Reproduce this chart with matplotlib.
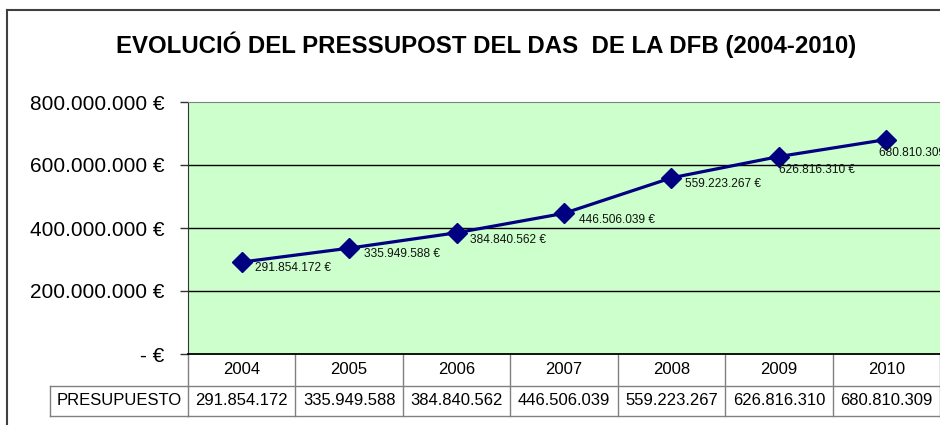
import matplotlib
matplotlib.use("Agg")
import matplotlib.pyplot as plt
from matplotlib.lines import Line2D
import matplotlib.transforms as mtransforms

years = ["2004", "2005", "2006", "2007", "2008", "2009", "2010"]
budget = [291854172, 335949588, 384840562, 446506039, 559223267, 626816310, 680810309]
yticks = [0, 200000000, 400000000, 600000000, 800000000]
row_label = "PRESUPUESTO"
title = "EVOLUCIÓ DEL PRESSUPOST DEL DAS  DE LA DFB (2004-2010)"

# label placement (offset points, layout only)
label_offsets = [(9.5, -4.5), (10.5, -4.5), (10, -5), (10.5, -5), (10, -4.5), (0, -10), (-5, -10)]

def fmt(v):
    return f"{v:,}".replace(",", ".")

def fmt_tick(v):
    return "- €" if v == 0 else fmt(v) + " €"

plt.rcParams['font.family'] = ['Liberation Sans', 'DejaVu Sans']

W, H = 940, 425
fig = plt.figure(figsize=(W / 100, H / 100), dpi=100)
fig.patch.set_facecolor("white")

left, right, top, bottom = 188, 940, 102, 354
ax = fig.add_axes([left / W, 1 - bottom / H, (right - left) / W, (bottom - top) / H])
ax.set_facecolor("#CCFFCC")

x = list(range(len(years)))
ax.plot(x, budget, color="#000080", lw=2.3, marker="D", ms=10, zorder=3, clip_on=False)
for xi, v, off in zip(x, budget, label_offsets):
    ax.annotate(fmt(v) + " €", (xi, v), xytext=off, textcoords="offset points",
                fontsize=8.6, ha="left", va="center", color="#111111", annotation_clip=False)

ax.set_xlim(-0.5, len(years) - 0.5)
ax.set_ylim(0, 800000000)
ax.set_yticks(yticks)
ax.set_yticklabels([fmt_tick(v) for v in yticks], fontsize=15)
ax.tick_params(axis="y", length=6, width=1, pad=11, color="#333333")
ax.set_xticks([])
for yv in yticks[1:-1]:
    ax.axhline(yv, color="black", lw=1, zorder=1)
ax.spines["top"].set_color("#808080")
ax.spines["right"].set_visible(False)
ax.spines["left"].set_color("#333333")
ax.spines["bottom"].set_color("black")
ax.spines["bottom"].set_linewidth(1.3)

# Data table below the axes
trans = mtransforms.blended_transform_factory(ax.transData, fig.transFigure)
def fy(py):
    return 1 - py / H
row1_top, row1_bot, row2_bot = 354, 385.5, 416
gray = "#808080"
n = len(years)
for i in range(n + 1):
    xe = i - 0.5
    ax.add_line(Line2D([xe, xe], [fy(row1_top), fy(row2_bot)], transform=trans,
                       color=gray, lw=1, clip_on=False))
ax.add_line(Line2D([-0.5, n - 0.5], [fy(row1_bot)] * 2, transform=trans, color=gray, lw=1, clip_on=False))
ax.add_line(Line2D([-0.5, n - 0.5], [fy(row2_bot)] * 2, transform=trans, color=gray, lw=1, clip_on=False))
# label cell
lab_left = 50
fig.add_artist(Line2D([lab_left / W, left / W], [fy(row1_bot)] * 2, color=gray, lw=1))
fig.add_artist(Line2D([lab_left / W, left / W], [fy(row2_bot)] * 2, color=gray, lw=1))
fig.add_artist(Line2D([lab_left / W] * 2, [fy(row1_bot), fy(row2_bot)], color=gray, lw=1))
fig.text((lab_left + left) / 2 / W, fy((row1_bot + row2_bot) / 2), row_label,
         ha="center", va="center", fontsize=12)
for xi, yr, v in zip(x, years, budget):
    ax.text(xi, fy((row1_top + row1_bot) / 2), yr, transform=trans, ha="center",
            va="center", fontsize=12, clip_on=False)
    ax.text(xi, fy((row1_bot + row2_bot) / 2), fmt(v), transform=trans, ha="center",
            va="center", fontsize=12, clip_on=False)

# Outer chart border
fig.add_artist(Line2D([7 / W, 7 / W], [0, fy(10)], color="#404040", lw=1.5))
fig.add_artist(Line2D([7 / W, 1], [fy(10), fy(10)], color="#404040", lw=1.5))

fig.text(486 / W, fy(45), title, ha="center", va="center", fontsize=17.3,
         fontweight="bold")

fig.savefig("out.png", dpi=100)
